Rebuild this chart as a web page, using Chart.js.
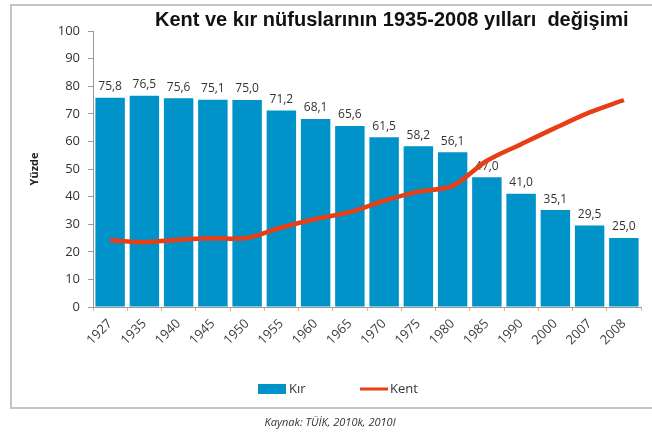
<!DOCTYPE html>
<html>
<head>
<meta charset="utf-8">
<script src="https://cdn.jsdelivr.net/npm/chart.js@4"></script>
<style>
    body { margin: 0; background: #fff; }
    #wrap { position: relative; width: 652px; height: 434px; overflow: hidden; }
    #frame { position: absolute; left: 10px; top: 4px; width: 700px; height: 401px; border: 2px solid #c4c4c4; }
    #title { position: absolute; left: 155px; top: 8px; font: bold 20px 'Liberation Sans', Arial, sans-serif; color: #111; white-space: pre; }
    #source { position: absolute; left: 0; width: 660px; top: 414px; text-align: center; font: italic 11px 'Open Sans', sans-serif; color: #333; }
    canvas { position: absolute; left: 0; top: 0; }
</style>
</head>
<body>
<div id="wrap">
    <div id="frame"></div>
    <canvas id="nufusChart" width="652" height="434"></canvas>
    <div id="title">Kent ve kır nüfuslarının 1935-2008 yılları  değişimi</div>
    <div id="source">Kaynak: TÜİK, 2010k, 2010l</div>
</div>
<script>
const years = ['1927', '1935', '1940', '1945', '1950', '1955', '1960', '1965', '1970', '1975', '1980', '1985', '1990', '2000', '2007', '2008'];
const kir = [75.8, 76.5, 75.6, 75.1, 75.0, 71.2, 68.1, 65.6, 61.5, 58.2, 56.1, 47.0, 41.0, 35.1, 29.5, 25.0];
const kent = [24.2, 23.5, 24.4, 24.9, 25.0, 28.8, 31.9, 34.4, 38.5, 41.8, 43.9, 53.0, 59.0, 64.9, 70.5, 75.0];

const blue = '#0093c9';
const red = '#e83e16';
const fontFamily = "'Open Sans', sans-serif";

// value labels above the bars, drawn before the line so it passes over them
const barLabels = {
    id: 'barLabels',
    afterDatasetDraw(chart, args) {
        if (args.index !== 0) return;
        const c = chart.ctx;
        c.save();
        c.font = '12px ' + fontFamily;
        c.fillStyle = '#333';
        c.textAlign = 'center';
        c.textBaseline = 'bottom';
        args.meta.data.forEach((bar, i) => {
            c.fillText(kir[i].toFixed(1).replace('.', ','), bar.x, bar.y - 5);
        });
        c.restore();
    }
};

// legend in the style of the original
const legendBox = {
    id: 'legendBox',
    afterDraw(chart) {
        const c = chart.ctx;
        const y = 389;
        c.save();
        c.font = '13px ' + fontFamily;
        c.textBaseline = 'middle';
        c.fillStyle = blue;
        c.fillRect(258, y - 5, 28, 10);
        c.fillStyle = '#333';
        c.fillText(chart.data.datasets[0].label, 289, y);
        c.strokeStyle = red;
        c.lineWidth = 3;
        c.beginPath();
        c.moveTo(360, y);
        c.lineTo(388, y);
        c.stroke();
        c.fillText(chart.data.datasets[1].label, 390, y);
        c.restore();
    }
};

new Chart(document.getElementById('nufusChart'), {
    data: {
        labels: years,
        datasets: [{
            type: 'bar',
            label: 'Kır',
            data: kir,
            backgroundColor: blue,
            barPercentage: 0.86,
            categoryPercentage: 1,
            order: 1
        }, {
            type: 'line',
            label: 'Kent',
            data: kent,
            borderColor: red,
            borderWidth: 4.5,
            pointRadius: 0,
            tension: 0.3,
            fill: false,
            order: 0
        }]
    },
    options: {
        responsive: false,
        animation: false,
        layout: { padding: { left: 20, right: 11, top: 31, bottom: 67 } },
        plugins: {
            legend: { display: false },
            tooltip: { enabled: false }
        },
        scales: {
            x: {
                afterFit: (s) => { s.height = 60; },
                grid: { display: true, drawOnChartArea: false, offset: true, tickLength: 4, color: '#d8b48c' },
                border: { display: true, color: '#9a9a9a' },
                ticks: { maxRotation: 45, minRotation: 45, padding: 5, color: '#404040', font: { size: 13, family: fontFamily } }
            },
            y: {
                min: 0,
                max: 100,
                afterFit: (s) => { s.width = 73; },
                title: { display: true, text: 'Yüzde', color: '#222', padding: 8, font: { size: 11, weight: 'bold', family: fontFamily } },
                grid: { display: true, drawOnChartArea: false, tickLength: 5, color: '#9a9a9a' },
                border: { display: true, color: '#9a9a9a' },
                ticks: { stepSize: 10, padding: 8, color: '#333', font: { size: 13, family: fontFamily } }
            }
        }
    },
    plugins: [barLabels, legendBox]
});
</script>
</body>
</html>
